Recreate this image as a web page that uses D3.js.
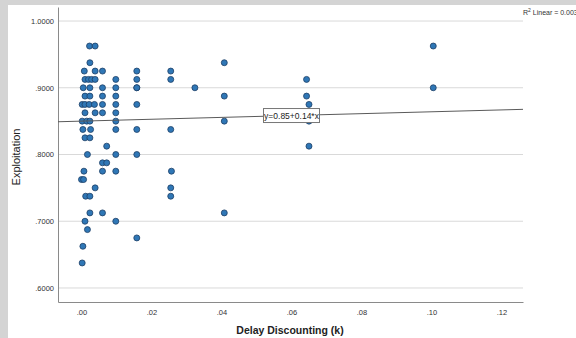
<!DOCTYPE html>
<html>
<head>
<meta charset="utf-8">
<script src="https://cdn.jsdelivr.net/npm/d3@7"></script>
<style>
  html, body { margin: 0; padding: 0; background: #d4d4d4; }
  svg { display: block; font-family: "Liberation Sans", Arial, sans-serif; }
</style>
</head>
<body>
<svg id="chart" width="576" height="338"></svg>
<script>
// delay discounting k values and exploitation scores
const kValues = [
  0.0023, 0.0039, 0.1005,
  0.0024, 0.0408,
  0.0008, 0.0039, 0.006, 0.0158, 0.0255,
  0.001, 0.002, 0.0029, 0.0039, 0.0098, 0.0158, 0.0255, 0.0643,
  0.0005, 0.0024, 0.006, 0.0098, 0.0158, 0.0158, 0.0324, 0.1005,
  0.001, 0.0024, 0.006, 0.0098, 0.0408, 0.0643,
  0.0002, 0.001, 0.0022, 0.0037, 0.006, 0.0098, 0.0158, 0.065,
  0.001, 0.0039, 0.006, 0.0098,
  0.0002, 0.0015, 0.0024, 0.0098, 0.0408, 0.065,
  0.0004, 0.0026, 0.0098, 0.0158, 0.0255,
  0.001, 0.0024,
  0.0072, 0.065,
  0.0017, 0.0098, 0.0158,
  0.006, 0.0072,
  0.0007, 0.006, 0.0098, 0.0257,
  0.0, 0.0006,
  0.0039, 0.0255,
  0.0012, 0.0024, 0.0255,
  0.0024, 0.006, 0.0408,
  0.001, 0.0098,
  0.0017,
  0.0158,
  0.0004,
  0.0002
];
const exploitValues = [
  0.9625, 0.9625, 0.9625,
  0.9375, 0.9375,
  0.925, 0.925, 0.925, 0.925, 0.925,
  0.9125, 0.9125, 0.9125, 0.9125, 0.9125, 0.9125, 0.9125, 0.9125,
  0.9, 0.9, 0.9, 0.9, 0.9, 0.9, 0.9, 0.9,
  0.8875, 0.8875, 0.8875, 0.8875, 0.8875, 0.8875,
  0.875, 0.875, 0.875, 0.875, 0.875, 0.875, 0.875, 0.875,
  0.8625, 0.8625, 0.8625, 0.8625,
  0.85, 0.85, 0.85, 0.85, 0.85, 0.85,
  0.8375, 0.8375, 0.8375, 0.8375, 0.8375,
  0.825, 0.825,
  0.8125, 0.8125,
  0.8, 0.8, 0.8,
  0.7875, 0.7875,
  0.775, 0.775, 0.775, 0.775,
  0.7625, 0.7625,
  0.75, 0.75,
  0.7375, 0.7375, 0.7375,
  0.7125, 0.7125, 0.7125,
  0.7, 0.7,
  0.6875,
  0.675,
  0.6625,
  0.6375
];
const xTicks = [0, 0.02, 0.04, 0.06, 0.08, 0.10, 0.12];
const yTicks = [0.6, 0.7, 0.8, 0.9, 1.0];
const fitIntercept = 0.85;
const fitSlope = 0.14;
const fitLabel = 'y=0.85+0.14*x';
const r2Label = ['R', '2', ' Linear = 0.003'];

const svg = d3.select('#chart');

// white panel over grey frame
svg.append('rect').attr('x', 8).attr('y', 5).attr('width', 568).attr('height', 333).attr('fill', '#ffffff');

const plotL = 58, plotT = 7, plotR = 523, plotB = 302;
const x = d3.scaleLinear().domain([-0.00671, 0.12614]).range([plotL, plotR]);
const y = d3.scaleLinear().domain([0.579, 1.021]).range([plotB, plotT]);

const noLead = s => s.replace(/^0\./, '.');

// horizontal grid lines
svg.append('g')
  .selectAll('line')
  .data(yTicks)
  .enter().append('line')
  .attr('x1', plotL).attr('x2', plotR)
  .attr('y1', d => y(d)).attr('y2', d => y(d))
  .attr('stroke', '#d9d9d9')
  .attr('stroke-width', 1);

// axes
const yAxis = svg.append('g')
  .attr('transform', `translate(${plotL},0)`)
  .call(d3.axisLeft(y).tickValues(yTicks).tickSize(0).tickPadding(4)
    .tickFormat(d => noLead(d3.format('.4f')(d))));
const xAxis = svg.append('g')
  .attr('transform', `translate(0,${plotB})`)
  .call(d3.axisBottom(x).tickValues(xTicks).tickSize(0).tickPadding(8)
    .tickFormat(d => noLead(d3.format('.2f')(d))));

[yAxis, xAxis].forEach(a => {
  a.select('.domain').attr('stroke', '#8a8a8a').attr('stroke-width', 1);
  a.selectAll('text')
    .attr('font-family', '"Liberation Sans", Arial, sans-serif')
    .attr('font-size', 7.5)
    .attr('fill', '#333');
});

// points
svg.append('g')
  .selectAll('circle')
  .data(kValues.map((k, i) => [k, exploitValues[i]]))
  .enter().append('circle')
  .attr('cx', d => x(d[0]))
  .attr('cy', d => y(d[1]))
  .attr('r', 3)
  .attr('fill', '#2f77b6')
  .attr('stroke', '#1d3f66')
  .attr('stroke-width', 0.8);

// linear fit
const [x0, x1] = x.domain();
svg.append('line')
  .attr('x1', x(x0)).attr('y1', y(fitIntercept + fitSlope * x0))
  .attr('x2', x(x1)).attr('y2', y(fitIntercept + fitSlope * x1))
  .attr('stroke', '#5a5a5a')
  .attr('stroke-width', 1);

// fit label box
const lx = 0.06;
const lbl = svg.append('g')
  .attr('transform', `translate(${x(lx)},${y(fitIntercept + fitSlope * lx)})`);
lbl.append('rect')
  .attr('x', -28).attr('y', -7).attr('width', 56).attr('height', 14)
  .attr('fill', '#fff').attr('stroke', '#777').attr('stroke-width', 1);
lbl.append('text')
  .attr('text-anchor', 'middle').attr('dy', 3)
  .attr('font-size', 8.5).attr('fill', '#222')
  .text(fitLabel);

// R squared note
const r2 = svg.append('text')
  .attr('x', 523).attr('y', 15)
  .attr('font-size', 7).attr('fill', '#333');
r2.append('tspan').text(r2Label[0]);
r2.append('tspan').attr('dy', -3).attr('font-size', 5).text(r2Label[1]);
r2.append('tspan').attr('dy', 3).text(r2Label[2]);

// axis titles
svg.append('text')
  .attr('x', 290).attr('y', 334)
  .attr('text-anchor', 'middle')
  .attr('font-size', 10.5).attr('font-weight', 'bold').attr('fill', '#222')
  .text('Delay Discounting (k)');
svg.append('text')
  .attr('transform', 'translate(20,157) rotate(-90)')
  .attr('text-anchor', 'middle')
  .attr('font-size', 11).attr('fill', '#222')
  .text('Exploitation');
</script>
</body>
</html>
